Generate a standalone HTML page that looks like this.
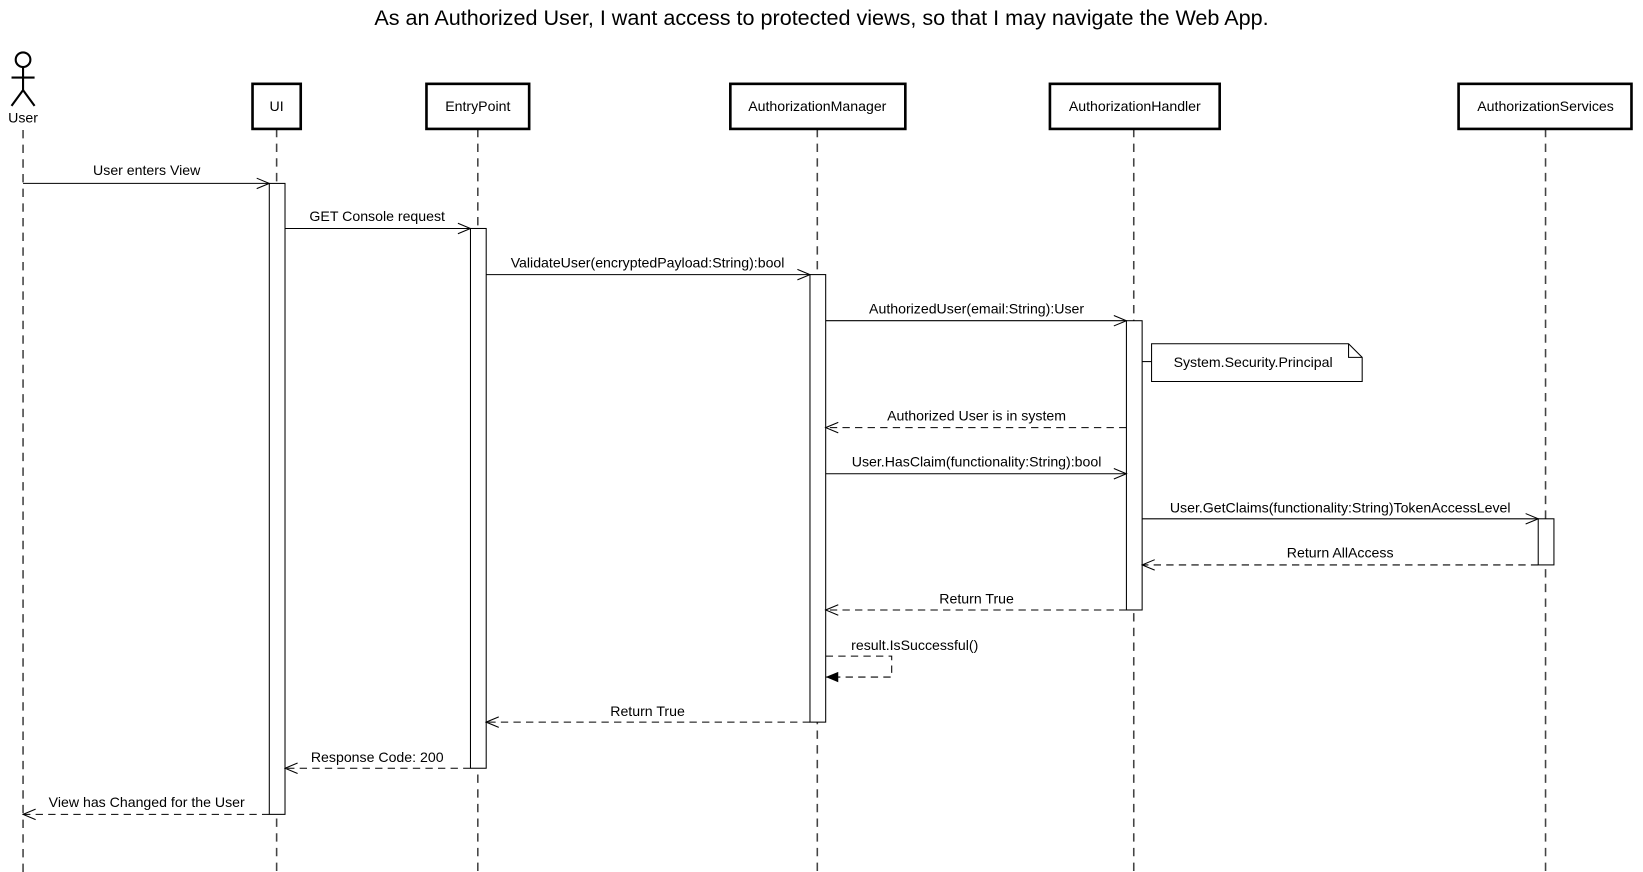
<!DOCTYPE html>
<html><head><meta charset="utf-8"><style>
html,body{margin:0;padding:0;background:#fff;}
svg{display:block;}
text{font-family:"Liberation Sans",sans-serif;fill:#000;}
</style></head><body>
<svg width="1643" height="872" viewBox="0 0 1568 832" preserveAspectRatio="none" xmlns="http://www.w3.org/2000/svg">
<defs>
<marker id="o" markerWidth="14" markerHeight="12" refX="13" refY="6" orient="auto" markerUnits="userSpaceOnUse"><path d="M1,1 L13,6 L1,11" fill="none" stroke="#000" stroke-width="1"/></marker>
<marker id="f" markerWidth="14" markerHeight="12" refX="13" refY="6" orient="auto" markerUnits="userSpaceOnUse"><path d="M1,1 L13,6 L1,11 Z" fill="#000"/></marker>
</defs>
<text x="784" y="24" font-size="20.6" text-anchor="middle">As an Authorized User, I want access to protected views, so that I may navigate the Web App.</text>
<g stroke="#000" stroke-width="2" fill="none">
<circle cx="22" cy="57" r="7"/>
<line x1="22" y1="64" x2="22" y2="86"/>
<line x1="11" y1="74" x2="33" y2="74"/>
<line x1="22" y1="86" x2="11" y2="101"/>
<line x1="22" y1="86" x2="33" y2="101"/>
</g>
<text x="22" y="117" font-size="13.5" text-anchor="middle">User</text>
<g stroke="#444" stroke-width="1.5" stroke-dasharray="8,6">
<line x1="22" y1="124" x2="22" y2="832"/>
<line x1="264" y1="123" x2="264" y2="832"/>
<line x1="456" y1="123" x2="456" y2="832"/>
<line x1="780" y1="123" x2="780" y2="832"/>
<line x1="1082" y1="123" x2="1082" y2="832"/>
<line x1="1475" y1="123" x2="1475" y2="832"/>
</g>
<g stroke="#000" stroke-width="2.5" fill="#fff">
<rect x="241" y="80" width="46" height="43"/>
<rect x="407" y="80" width="98" height="43"/>
<rect x="697" y="80" width="167" height="43"/>
<rect x="1002" y="80" width="162" height="43"/>
<rect x="1392" y="80" width="165" height="43"/>
</g>
<g font-size="13.5" text-anchor="middle">
<text x="264" y="106">UI</text>
<text x="456" y="106">EntryPoint</text>
<text x="780" y="106">AuthorizationManager</text>
<text x="1083" y="106">AuthorizationHandler</text>
<text x="1475" y="106">AuthorizationServices</text>
</g>
<g stroke="#000" stroke-width="1" fill="#fff">
<rect x="257" y="175" width="15" height="602"/>
<rect x="449" y="218" width="15" height="515"/>
<rect x="773" y="262" width="15" height="427"/>
<rect x="1075" y="306" width="15" height="276"/>
<rect x="1468" y="495" width="15" height="44"/>
<path d="M1099,328 H1287 L1300,341 V364 H1099 Z"/>
<path d="M1287,328 V341 H1300" fill="none"/>
<line x1="1090" y1="345" x2="1099" y2="345"/>
</g>
<text x="1120" y="350" font-size="13.5">System.Security.Principal</text>
<g stroke="#000" stroke-width="1" fill="none">
<line x1="22" y1="175" x2="257" y2="175" marker-end="url(#o)"/>
<line x1="272" y1="218" x2="449" y2="218" marker-end="url(#o)"/>
<line x1="464" y1="262" x2="773" y2="262" marker-end="url(#o)"/>
<line x1="788" y1="306" x2="1075" y2="306" marker-end="url(#o)"/>
<line x1="788" y1="452" x2="1075" y2="452" marker-end="url(#o)"/>
<line x1="1090" y1="495" x2="1468" y2="495" marker-end="url(#o)"/>
</g>
<g stroke="#000" stroke-width="1" fill="none" stroke-dasharray="7,5">
<line x1="1075" y1="408" x2="788" y2="408" marker-end="url(#o)"/>
<line x1="1468" y1="539" x2="1090" y2="539" marker-end="url(#o)"/>
<line x1="1075" y1="582" x2="788" y2="582" marker-end="url(#o)"/>
<polyline points="788,626 851,626 851,646 788,646" marker-end="url(#f)"/>
<line x1="773" y1="689" x2="464" y2="689" marker-end="url(#o)"/>
<line x1="449" y1="733" x2="272" y2="733" marker-end="url(#o)"/>
<line x1="257" y1="777" x2="22" y2="777" marker-end="url(#o)"/>
</g>
<g font-size="13.5" text-anchor="middle">
<text x="140" y="167">User enters View</text>
<text x="360" y="211">GET Console request</text>
<text x="618" y="255">ValidateUser(encryptedPayload:String):bool</text>
<text x="932" y="299">AuthorizedUser(email:String):User</text>
<text x="932" y="401">Authorized User is in system</text>
<text x="932" y="445">User.HasClaim(functionality:String):bool</text>
<text x="1279" y="489">User.GetClaims(functionality:String)TokenAccessLevel</text>
<text x="1279" y="532">Return AllAccess</text>
<text x="932" y="576">Return True</text>
<text x="873" y="620">result.IsSuccessful()</text>
<text x="618" y="683">Return True</text>
<text x="360" y="727">Response Code: 200</text>
<text x="140" y="770">View has Changed for the User</text>
</g>
</svg>
</body></html>
